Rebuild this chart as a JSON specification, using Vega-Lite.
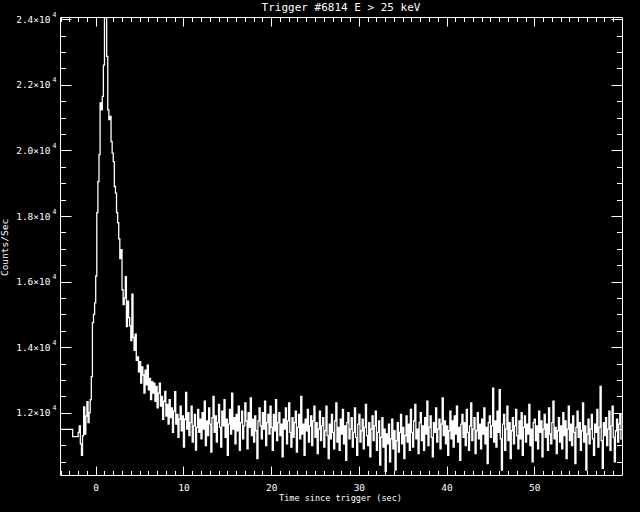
{
"$schema": "https://vega.github.io/schema/vega-lite/v6.json",
"width": 562, "height": 458,
"autosize": {"type": "none"},
"padding": {"left": 60, "top": 17, "right": 18, "bottom": 37},
"background": "black",
"title": {"text": "Trigger #6814 E > 25 keV", "color": "white", "font": "DejaVu Sans Mono", "fontSize": 11, "fontWeight": "normal", "anchor": "middle", "frame": "group", "baseline": "alphabetic", "offset": 5, "dy": 17},
"data": {"values": [
{"t":-4.1,"c":11490},{"t":-2.625,"c":11270},{"t":-2.0,"c":11400},{"t":-1.875,"c":11600},{"t":-1.75,"c":11050},{"t":-1.625,"c":10700},{"t":-1.5,"c":11300},{"t":-1.375,"c":12180},{"t":-1.25,"c":11350},{"t":-1.125,"c":11900},{"t":-1.0,"c":12340},{"t":-0.875,"c":11700},{"t":-0.75,"c":12000},{"t":-0.625,"c":12400},
{"t":-0.5,"c":13100},{"t":-0.375,"c":14750},{"t":-0.25,"c":15000},{"t":-0.125,"c":15350},{"t":0.0,"c":16170},{"t":0.125,"c":18100},{"t":0.25,"c":19050},{"t":0.375,"c":19870},{"t":0.5,"c":21450},{"t":0.625,"c":21240},{"t":0.75,"c":21650},{"t":0.875,"c":22600},
{"t":1.0,"c":24300},{"t":1.125,"c":25000},{"t":1.25,"c":22870},{"t":1.375,"c":21240},{"t":1.5,"c":20940},{"t":1.625,"c":21040},{"t":1.75,"c":20270},{"t":1.875,"c":19920},
{"t":2.0,"c":19660},{"t":2.125,"c":18900},{"t":2.25,"c":18700},{"t":2.375,"c":18100},{"t":2.5,"c":17800},{"t":2.625,"c":17300},{"t":2.75,"c":16700},{"t":2.875,"c":16970},
{"t":3.0,"c":15750},{"t":3.125,"c":15300},{"t":3.25,"c":15500},{"t":3.375,"c":16150},{"t":3.5,"c":14630},{"t":3.625,"c":15400},{"t":3.75,"c":14900},{"t":3.875,"c":14650},
{"t":4.0,"c":14200},{"t":4.125,"c":15620},{"t":4.25,"c":14300},{"t":4.375,"c":13900},{"t":4.5,"c":14400},{"t":4.625,"c":13600},{"t":4.75,"c":13700},{"t":4.875,"c":13250},
{"t":5.0,"c":13560},{"t":5.125,"c":12900},{"t":5.25,"c":13400},{"t":5.375,"c":13150},{"t":5.5,"c":12600},{"t":5.625,"c":13300},{"t":5.75,"c":12850},{"t":5.875,"c":13450},
{"t":6.0,"c":12700},{"t":6.125,"c":13050},{"t":6.25,"c":12400},{"t":6.375,"c":12950},{"t":6.5,"c":12600},{"t":6.625,"c":12900},{"t":6.75,"c":12350},{"t":6.875,"c":12800},
{"t":7.0,"c":12150},{"t":7.125,"c":12600},{"t":7.25,"c":12900},{"t":7.375,"c":12200},{"t":7.5,"c":12500},{"t":7.625,"c":11800},{"t":7.75,"c":12350},{"t":7.875,"c":12650},
{"t":8.0,"c":11900},{"t":8.125,"c":12250},{"t":8.25,"c":11650},{"t":8.375,"c":12400},{"t":8.5,"c":11850},{"t":8.625,"c":12150},{"t":8.75,"c":11400},{"t":8.875,"c":12050},
{"t":9.0,"c":12640},{"t":9.125,"c":11650},{"t":9.25,"c":11950},{"t":9.375,"c":11250},{"t":9.5,"c":11800},{"t":9.625,"c":12200},{"t":9.75,"c":11450},{"t":9.875,"c":11900},
{"t":10.0,"c":10950},{"t":10.125,"c":11800},{"t":10.25,"c":12620},{"t":10.375,"c":11500},{"t":10.5,"c":12000},{"t":10.625,"c":11300},{"t":10.75,"c":11700},{"t":10.875,"c":12200},
{"t":11.0,"c":11100},{"t":11.125,"c":11600},{"t":11.25,"c":11950},{"t":11.375,"c":10860},{"t":11.5,"c":11550},{"t":11.625,"c":12100},{"t":11.75,"c":11400},{"t":11.875,"c":11800},
{"t":12.0,"c":11200},{"t":12.125,"c":12000},{"t":12.25,"c":11500},{"t":12.375,"c":12350},{"t":12.5,"c":11000},{"t":12.625,"c":11750},{"t":12.75,"c":11300},{"t":12.875,"c":12150},
{"t":13.0,"c":11650},{"t":13.125,"c":10800},{"t":13.25,"c":11850},{"t":13.375,"c":12500},{"t":13.5,"c":11400},{"t":13.625,"c":11900},{"t":13.75,"c":11100},{"t":13.875,"c":11700},
{"t":14.0,"c":12250},{"t":14.125,"c":11550},{"t":14.25,"c":10950},{"t":14.375,"c":12050},{"t":14.5,"c":11600},{"t":14.625,"c":12400},{"t":14.75,"c":11250},{"t":14.875,"c":11800},
{"t":15.0,"c":10700},{"t":15.125,"c":11650},{"t":15.25,"c":12100},{"t":15.375,"c":11350},{"t":15.5,"c":12600},{"t":15.625,"c":11500},{"t":15.75,"c":11850},{"t":15.875,"c":11050},
{"t":16.0,"c":11950},{"t":16.125,"c":11450},{"t":16.25,"c":12200},{"t":16.375,"c":10850},{"t":16.5,"c":11700},{"t":16.625,"c":12050},{"t":16.75,"c":11200},{"t":16.875,"c":11600},
{"t":17.0,"c":12300},{"t":17.125,"c":11750},{"t":17.25,"c":10900},{"t":17.375,"c":12000},{"t":17.5,"c":11550},{"t":17.625,"c":12450},{"t":17.75,"c":11300},{"t":17.875,"c":11800},
{"t":18.0,"c":11100},{"t":18.125,"c":11900},{"t":18.25,"c":11450},{"t":18.375,"c":10600},{"t":18.5,"c":11750},{"t":18.625,"c":12150},{"t":18.75,"c":11600},{"t":18.875,"c":11200},
{"t":19.0,"c":12000},{"t":19.125,"c":11500},{"t":19.25,"c":12350},{"t":19.375,"c":11000},{"t":19.5,"c":11700},{"t":19.625,"c":11950},{"t":19.75,"c":11350},{"t":19.875,"c":12200},
{"t":20.0,"c":11550},{"t":20.125,"c":10850},{"t":20.25,"c":11950},{"t":20.375,"c":11450},{"t":20.5,"c":12400},{"t":20.625,"c":11150},{"t":20.75,"c":11700},{"t":20.875,"c":12000},
{"t":21.0,"c":11300},{"t":21.125,"c":11650},{"t":21.25,"c":10650},{"t":21.375,"c":11800},{"t":21.5,"c":11500},{"t":21.625,"c":12150},{"t":21.75,"c":11050},{"t":21.875,"c":11750},
{"t":22.0,"c":12300},{"t":22.125,"c":11400},{"t":22.25,"c":10950},{"t":22.375,"c":11850},{"t":22.5,"c":11250},{"t":22.625,"c":11700},{"t":22.75,"c":12050},{"t":22.875,"c":10800},
{"t":23.0,"c":11550},{"t":23.125,"c":11950},{"t":23.25,"c":11200},{"t":23.375,"c":12500},{"t":23.5,"c":11350},{"t":23.625,"c":11650},{"t":23.75,"c":10700},{"t":23.875,"c":11800},
{"t":24.0,"c":11450},{"t":24.125,"c":12100},{"t":24.25,"c":11100},{"t":24.375,"c":11600},{"t":24.5,"c":11900},{"t":24.625,"c":11000},{"t":24.75,"c":11750},{"t":24.875,"c":12200},
{"t":25.0,"c":11250},{"t":25.125,"c":11700},{"t":25.25,"c":10750},{"t":25.375,"c":11500},{"t":25.5,"c":12050},{"t":25.625,"c":11150},{"t":25.75,"c":11600},{"t":25.875,"c":11850},
{"t":26.0,"c":10950},{"t":26.125,"c":11450},{"t":26.25,"c":12200},{"t":26.375,"c":11300},{"t":26.5,"c":10600},{"t":26.625,"c":11650},{"t":26.75,"c":11200},{"t":26.875,"c":11950},
{"t":27.0,"c":11400},{"t":27.125,"c":10900},{"t":27.25,"c":11750},{"t":27.375,"c":12300},{"t":27.5,"c":11100},{"t":27.625,"c":11550},{"t":27.75,"c":10850},{"t":27.875,"c":11800},
{"t":28.0,"c":11350},{"t":28.125,"c":12100},{"t":28.25,"c":11050},{"t":28.375,"c":11600},{"t":28.5,"c":10550},{"t":28.625,"c":11700},{"t":28.75,"c":12000},{"t":28.875,"c":11200},
{"t":29.0,"c":11500},{"t":29.125,"c":11850},{"t":29.25,"c":10950},{"t":29.375,"c":11400},{"t":29.5,"c":12150},{"t":29.625,"c":11250},{"t":29.75,"c":10700},{"t":29.875,"c":11650},
{"t":30.0,"c":11950},{"t":30.125,"c":11100},{"t":30.25,"c":11450},{"t":30.375,"c":11800},{"t":30.5,"c":10900},{"t":30.625,"c":11550},{"t":30.75,"c":12250},{"t":30.875,"c":11300},
{"t":31.0,"c":11000},{"t":31.125,"c":11700},{"t":31.25,"c":10650},{"t":31.375,"c":11500},{"t":31.5,"c":11900},{"t":31.625,"c":11150},{"t":31.75,"c":11600},{"t":31.875,"c":12050},
{"t":32.0,"c":10850},{"t":32.125,"c":11400},{"t":32.25,"c":11750},{"t":32.375,"c":10400},{"t":32.5,"c":11250},{"t":32.625,"c":11850},{"t":32.75,"c":10950},{"t":32.875,"c":11500},
{"t":33.0,"c":10200},{"t":33.125,"c":11350},{"t":33.25,"c":11050},{"t":33.375,"c":11650},{"t":33.5,"c":10500},{"t":33.625,"c":11200},{"t":33.75,"c":11800},{"t":33.875,"c":10900},
{"t":34.0,"c":11450},{"t":34.125,"c":10250},{"t":34.25,"c":11150},{"t":34.375,"c":11700},{"t":34.5,"c":10800},{"t":34.625,"c":11400},{"t":34.75,"c":11950},{"t":34.875,"c":11050},
{"t":35.0,"c":11550},{"t":35.125,"c":10600},{"t":35.25,"c":11300},{"t":35.375,"c":11900},{"t":35.5,"c":11100},{"t":35.625,"c":11650},{"t":35.75,"c":10850},{"t":35.875,"c":12100},
{"t":36.0,"c":11400},{"t":36.125,"c":10950},{"t":36.25,"c":11750},{"t":36.375,"c":12250},{"t":36.5,"c":11200},{"t":36.625,"c":11500},{"t":36.75,"c":10750},{"t":36.875,"c":11700},
{"t":37.0,"c":12000},{"t":37.125,"c":11150},{"t":37.25,"c":11600},{"t":37.375,"c":10850},{"t":37.5,"c":11850},{"t":37.625,"c":11350},{"t":37.75,"c":12350},{"t":37.875,"c":11000},
{"t":38.0,"c":11550},{"t":38.125,"c":11900},{"t":38.25,"c":11250},{"t":38.375,"c":10650},{"t":38.5,"c":11700},{"t":38.625,"c":11400},{"t":38.75,"c":12150},{"t":38.875,"c":11100},
{"t":39.0,"c":11500},{"t":39.125,"c":11800},{"t":39.25,"c":10900},{"t":39.375,"c":11650},{"t":39.5,"c":12450},{"t":39.625,"c":11300},{"t":39.75,"c":11750},{"t":39.875,"c":11050},
{"t":40.0,"c":11600},{"t":40.125,"c":10700},{"t":40.25,"c":11450},{"t":40.375,"c":12050},{"t":40.5,"c":11200},{"t":40.625,"c":11750},{"t":40.75,"c":10950},{"t":40.875,"c":11900},
{"t":41.0,"c":11350},{"t":41.125,"c":12200},{"t":41.25,"c":11100},{"t":41.375,"c":11550},{"t":41.5,"c":10550},{"t":41.625,"c":11650},{"t":41.75,"c":11950},{"t":41.875,"c":11250},
{"t":42.0,"c":11700},{"t":42.125,"c":11000},{"t":42.25,"c":12100},{"t":42.375,"c":11400},{"t":42.5,"c":10850},{"t":42.625,"c":11600},{"t":42.75,"c":12300},{"t":42.875,"c":11150},
{"t":43.0,"c":11500},{"t":43.125,"c":11850},{"t":43.25,"c":10750},{"t":43.375,"c":11450},{"t":43.5,"c":12000},{"t":43.625,"c":11200},{"t":43.75,"c":11650},{"t":43.875,"c":10900},
{"t":44.0,"c":11800},{"t":44.125,"c":11350},{"t":44.25,"c":12150},{"t":44.375,"c":11050},{"t":44.5,"c":11550},{"t":44.625,"c":10450},{"t":44.75,"c":11700},{"t":44.875,"c":11900},
{"t":45.0,"c":11250},{"t":45.125,"c":11600},{"t":45.25,"c":12750},{"t":45.375,"c":11100},{"t":45.5,"c":11750},{"t":45.625,"c":10950},{"t":45.75,"c":12050},{"t":45.875,"c":11400},
{"t":46.0,"c":12700},{"t":46.125,"c":11200},{"t":46.25,"c":10250},{"t":46.375,"c":11650},{"t":46.5,"c":11950},{"t":46.625,"c":10850},{"t":46.75,"c":11500},{"t":46.875,"c":12200},
{"t":47.0,"c":11150},{"t":47.125,"c":11700},{"t":47.25,"c":10600},{"t":47.375,"c":11450},{"t":47.5,"c":11850},{"t":47.625,"c":11050},{"t":47.75,"c":11600},{"t":47.875,"c":12100},
{"t":48.0,"c":11300},{"t":48.125,"c":10900},{"t":48.25,"c":11750},{"t":48.375,"c":11200},{"t":48.5,"c":12000},{"t":48.625,"c":10700},{"t":48.75,"c":11550},{"t":48.875,"c":11900},
{"t":49.0,"c":11100},{"t":49.125,"c":11650},{"t":49.25,"c":11350},{"t":49.375,"c":12250},{"t":49.5,"c":11000},{"t":49.625,"c":11500},{"t":49.75,"c":10500},{"t":49.875,"c":11700},
{"t":50.0,"c":11800},{"t":50.125,"c":11150},{"t":50.25,"c":11600},{"t":50.375,"c":10900},{"t":50.5,"c":12050},{"t":50.625,"c":11400},{"t":50.75,"c":11750},{"t":50.875,"c":10650},
{"t":51.0,"c":11500},{"t":51.125,"c":11950},{"t":51.25,"c":11250},{"t":51.375,"c":11650},{"t":51.5,"c":10850},{"t":51.625,"c":12150},{"t":51.75,"c":11350},{"t":51.875,"c":11050},
{"t":52.0,"c":11700},{"t":52.125,"c":12350},{"t":52.25,"c":11200},{"t":52.375,"c":11550},{"t":52.5,"c":10750},{"t":52.625,"c":11450},{"t":52.75,"c":11850},{"t":52.875,"c":11100},
{"t":53.0,"c":11600},{"t":53.125,"c":10900},{"t":53.25,"c":12000},{"t":53.375,"c":11300},{"t":53.5,"c":11750},{"t":53.625,"c":10600},{"t":53.75,"c":11500},{"t":53.875,"c":12200},
{"t":54.0,"c":11150},{"t":54.125,"c":11650},{"t":54.25,"c":11000},{"t":54.375,"c":11900},{"t":54.5,"c":11400},{"t":54.625,"c":10450},{"t":54.75,"c":11550},{"t":54.875,"c":12050},
{"t":55.0,"c":11250},{"t":55.125,"c":11700},{"t":55.25,"c":10850},{"t":55.375,"c":11450},{"t":55.5,"c":12300},{"t":55.625,"c":11100},{"t":55.75,"c":11600},{"t":55.875,"c":10250},
{"t":56.0,"c":11350},{"t":56.125,"c":11800},{"t":56.25,"c":11050},{"t":56.375,"c":11500},{"t":56.5,"c":11950},{"t":56.625,"c":11200},{"t":56.75,"c":10700},{"t":56.875,"c":11650},
{"t":57.0,"c":11400},{"t":57.125,"c":12100},{"t":57.25,"c":10950},{"t":57.375,"c":11550},{"t":57.5,"c":12800},{"t":57.625,"c":11150},{"t":57.75,"c":10300},{"t":57.875,"c":11700},
{"t":58.0,"c":11300},{"t":58.125,"c":11850},{"t":58.25,"c":11000},{"t":58.375,"c":11500},{"t":58.5,"c":12050},{"t":58.625,"c":10850},{"t":58.75,"c":11600},{"t":58.875,"c":12200},
{"t":59.0,"c":11250},{"t":59.125,"c":10500},{"t":59.25,"c":11450},{"t":59.375,"c":11800},{"t":59.5,"c":11100},{"t":59.625,"c":11650},{"t":59.75,"c":11950},{"t":59.875,"c":11200},
{"t":60.0,"c":11200}
]},
"layer": [
{
"mark": {"type": "line", "color": "white", "strokeWidth": 1.3, "interpolate": "step-after", "clip": true},
"encoding": {
"x": {"field": "t", "type": "quantitative", "scale": {"domain": [-4.07, 60], "nice": false, "zero": false},
 "axis": {"orient": "bottom", "values": [-4,-3,-2,-1,0,1,2,3,4,5,6,7,8,9,10,11,12,13,14,15,16,17,18,19,20,21,22,23,24,25,26,27,28,29,30,31,32,33,34,35,36,37,38,39,40,41,42,43,44,45,46,47,48,49,50,51,52,53,54,55,56,57,58,59],
 "labels": false, "title": null, "grid": false, "domain": true, "domainColor": "white", "domainWidth": 1, "tickColor": "white", "tickWidth": 1,
 "tickSize": {"condition": {"test": "datum.value % 10 === 0", "value": -9}, "value": -4.5}}},
"y": {"field": "c", "type": "quantitative", "scale": {"domain": [10100, 24070], "nice": false, "zero": false},
 "axis": {"orient": "left", "values": [10500,11000,11500,12000,12500,13000,13500,14000,14500,15000,15500,16000,16500,17000,17500,18000,18500,19000,19500,20000,20500,21000,21500,22000,22500,23000,23500,24000],
 "labels": false, "title": null, "grid": false, "domain": true, "domainColor": "white", "domainWidth": 1, "tickColor": "white", "tickWidth": 1,
 "tickSize": {"condition": {"test": "datum.value % 2000 === 0", "value": -11}, "value": -5.5}}}
}
},
{
"mark": {"type": "line", "color": "white", "strokeOpacity": 0, "interpolate": "step-after", "clip": true},
"encoding": {
"x": {"field": "t", "type": "quantitative", "scale": {"domain": [-4.07, 60], "nice": false, "zero": false},
 "axis": {"orient": "top", "values": [-4,-3,-2,-1,0,1,2,3,4,5,6,7,8,9,10,11,12,13,14,15,16,17,18,19,20,21,22,23,24,25,26,27,28,29,30,31,32,33,34,35,36,37,38,39,40,41,42,43,44,45,46,47,48,49,50,51,52,53,54,55,56,57,58,59],
 "labels": false, "title": null, "grid": false, "domain": true, "domainColor": "white", "domainWidth": 1, "tickColor": "white", "tickWidth": 1,
 "tickSize": {"condition": {"test": "datum.value % 10 === 0", "value": -9}, "value": -4.5}}},
"y": {"field": "c", "type": "quantitative", "scale": {"domain": [10100, 24070], "nice": false, "zero": false},
 "axis": {"orient": "right", "values": [10500,11000,11500,12000,12500,13000,13500,14000,14500,15000,15500,16000,16500,17000,17500,18000,18500,19000,19500,20000,20500,21000,21500,22000,22500,23000,23500,24000],
 "labels": false, "title": null, "grid": false, "domain": true, "domainColor": "white", "domainWidth": 1, "tickColor": "white", "tickWidth": 1,
 "tickSize": {"condition": {"test": "datum.value % 2000 === 0", "value": -11}, "value": -5.5}}}
}
},
{
"mark": {"type": "line", "color": "white", "strokeOpacity": 0, "interpolate": "step-after", "clip": true},
"encoding": {
"x": {"field": "t", "type": "quantitative", "scale": {"domain": [-4.07, 60], "nice": false, "zero": false},
 "axis": {"orient": "bottom", "values": [0,10,20,30,40,50], "format": "d", "ticks": false, "domain": false, "grid": false, "labelFlush": false,
 "labelColor": "white", "labelFont": "DejaVu Sans Mono", "labelFontSize": 9.5, "labelPadding": 7,
 "title": "Time since trigger (sec)", "titleColor": "white", "titleFont": "DejaVu Sans Mono", "titleFontSize": 8.5, "titleFontWeight": "normal",
 "titleX": 280, "titleY": 22.5, "titleBaseline": "middle", "titleAlign": "center"}},
"y": {"field": "c", "type": "quantitative", "scale": {"domain": [10100, 24070], "nice": false, "zero": false},
 "axis": {"orient": "left", "values": [12000,14000,16000,18000,20000,22000,24000], "labelExpr": "format(datum.value/10000, '.1f') + '×10'",
 "ticks": false, "domain": false, "grid": false, "labelFlush": false,
 "labelColor": "white", "labelFont": "DejaVu Sans Mono", "labelFontSize": 9.5, "labelPadding": 10, "labelBaseline": "middle",
 "title": "Counts/Sec", "titleColor": "white", "titleFont": "DejaVu Sans Mono", "titleFontSize": 9.5, "titleFontWeight": "normal",
 "titleX": -56, "titleY": 230, "titleAngle": -90, "titleBaseline": "middle", "titleAlign": "center"}}
}
},
{
"mark": {"type": "line", "color": "white", "strokeOpacity": 0, "interpolate": "step-after", "clip": true},
"encoding": {
"x": {"field": "t", "type": "quantitative", "scale": {"domain": [-4.07, 60], "nice": false, "zero": false}, "axis": null},
"y": {"field": "c", "type": "quantitative", "scale": {"domain": [10100, 24070], "nice": false, "zero": false},
 "axis": {"orient": "left", "values": [12000,14000,16000,18000,20000,22000,24000], "labelExpr": "'4'",
 "ticks": false, "domain": false, "grid": false, "labelFlush": false,
 "labelColor": "white", "labelFont": "DejaVu Sans Mono", "labelFontSize": 7, "labelPadding": 4, "labelOffset": -5, "labelBaseline": "middle", "title": null}}
}
}
],
"resolve": {"axis": {"x": "independent", "y": "independent"}},
"config": {"view": {"stroke": null}}
}
